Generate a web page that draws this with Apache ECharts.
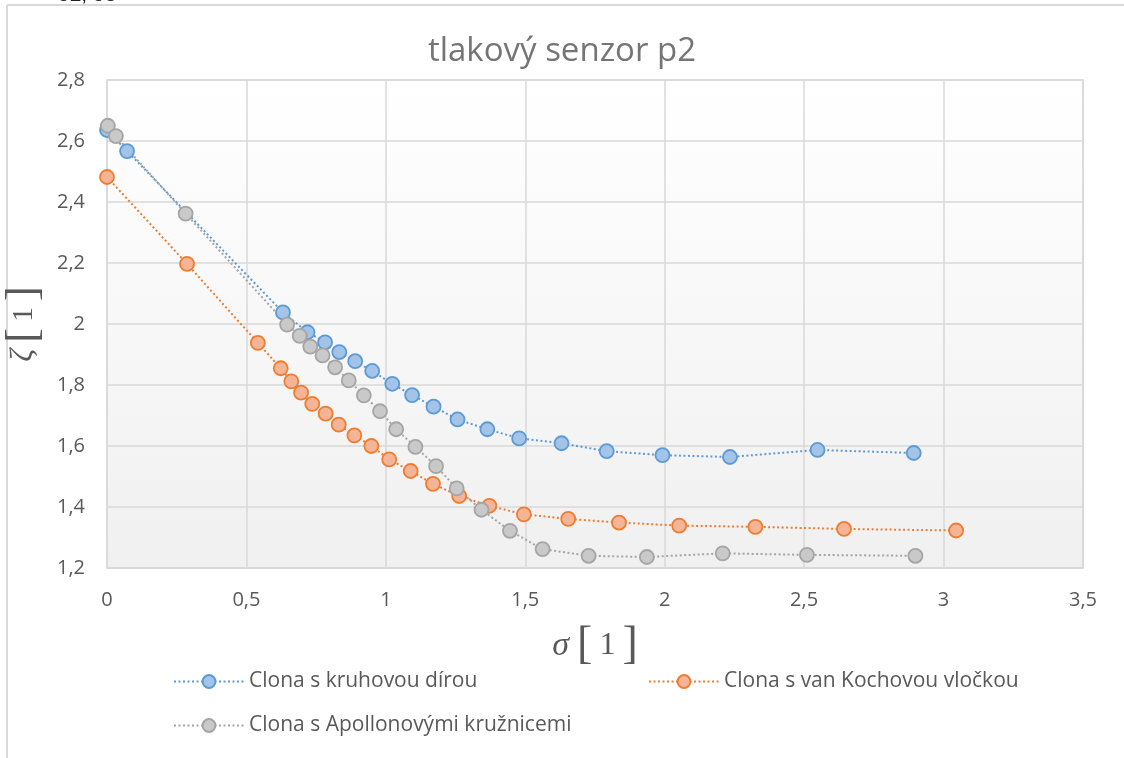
<!DOCTYPE html>
<html>
<head>
<meta charset="utf-8">
<script src="https://cdn.jsdelivr.net/npm/echarts@6/dist/echarts.min.js"></script>
<style>
html,body{margin:0;padding:0;background:#fff;}
#chart{width:1124px;height:758px;}
</style>
</head>
<body>
<div id="chart"></div>
<script>
// ---- data ----
const seriesNames = ['Clona s kruhovou dírou', 'Clona s van Kochovou vločkou', 'Clona s Apollonovými kružnicemi'];

const kruhX = [0, 0.072, 0.631, 0.719, 0.782, 0.833, 0.890, 0.951, 1.023, 1.094, 1.171, 1.257, 1.364, 1.478, 1.630, 1.792, 1.992, 2.234, 2.548, 2.893];
const kruhY = [2.636, 2.567, 2.038, 1.973, 1.940, 1.908, 1.878, 1.846, 1.804, 1.767, 1.729, 1.687, 1.655, 1.625, 1.609, 1.583, 1.570, 1.564, 1.587, 1.577];

const kochX = [0, 0.287, 0.541, 0.623, 0.661, 0.696, 0.736, 0.784, 0.831, 0.887, 0.948, 1.012, 1.089, 1.169, 1.263, 1.371, 1.495, 1.654, 1.836, 2.052, 2.325, 2.643, 3.045];
const kochY = [2.482, 2.197, 1.938, 1.855, 1.812, 1.775, 1.738, 1.706, 1.670, 1.635, 1.600, 1.556, 1.518, 1.476, 1.436, 1.404, 1.376, 1.361, 1.349, 1.339, 1.335, 1.328, 1.323];

const apolX = [0.003, 0.032, 0.282, 0.646, 0.691, 0.729, 0.773, 0.818, 0.867, 0.921, 0.979, 1.037, 1.106, 1.180, 1.254, 1.343, 1.445, 1.562, 1.727, 1.936, 2.208, 2.510, 2.899];
const apolY = [2.650, 2.616, 2.362, 1.998, 1.961, 1.926, 1.897, 1.858, 1.815, 1.766, 1.714, 1.655, 1.597, 1.534, 1.461, 1.391, 1.322, 1.262, 1.240, 1.236, 1.248, 1.243, 1.240];

const xTickLabels = ['0', '0,5', '1', '1,5', '2', '2,5', '3', '3,5'];
const yTickLabels = ['1,2', '1,4', '1,6', '1,8', '2', '2,2', '2,4', '2,6', '2,8'];

const titleText = 'tlakový senzor p2';
const cornerText = '92, 93';

// ---- chart ----
function pairs(xs, ys) { return xs.map((x, i) => [x, ys[i]]); }

const colors = {
  blue:   { line: '#5b9bd5', border: '#5b9bd5', fill: '#a3c3e8' },
  orange: { line: '#ed7d31', border: '#ed7d31', fill: '#f6b496' },
  gray:   { line: '#a5a5a5', border: '#a5a5a5', fill: '#c9c9c9' }
};

function mkSeries(name, data, c) {
  return {
    name: name,
    type: 'line',
    data: data,
    symbol: 'circle',
    symbolSize: 14,
    showAllSymbol: true,
    lineStyle: { color: c.line, width: 2, type: [2, 2.5] },
    itemStyle: { color: c.fill, borderColor: c.border, borderWidth: 1.8 },
    emphasis: { disabled: true },
    animation: false
  };
}

const labelFont = '"Open Sans", Lato, sans-serif';

function legendItem(name, left, top) {
  return {
    data: [name], left: left, top: top, padding: 0,
    itemWidth: 70, itemHeight: 16, itemGap: 0,
    textStyle: { fontFamily: labelFont, fontSize: 21, color: '#595959' }
  };
}

const chart = echarts.init(document.getElementById('chart'), null, { renderer: 'canvas' });
chart.setOption({
  backgroundColor: '#ffffff',
  animation: false,
  title: {
    text: titleText,
    left: 'center',
    top: 30,
    textStyle: { fontFamily: labelFont, fontSize: 33, fontWeight: 'normal', color: '#757575' }
  },
  grid: {
    left: 107, right: 41, top: 80, bottom: 190,
    outerBoundsMode: 'none',
    containLabel: false,
    show: true,
    borderColor: '#d9d9d9',
    borderWidth: 1.5,
    backgroundColor: new echarts.graphic.LinearGradient(0, 0, 0, 1, [
      { offset: 0, color: '#ffffff' },
      { offset: 1, color: '#f0f0f0' }
    ])
  },
  xAxis: {
    type: 'value',
    min: 0, max: 3.5, interval: 0.5,
    axisLine: { show: true, lineStyle: { color: '#d9d9d9', width: 1.5 } },
    axisTick: { show: false },
    splitLine: { show: true, lineStyle: { color: '#d9d9d9', width: 1.5 } },
    axisLabel: {
      margin: 22,
      fontFamily: labelFont, fontSize: 20, color: '#595959',
      formatter: v => xTickLabels[Math.round(v / 0.5)]
    },
    name: '{v|σ}{b|[}{n|1}{b|]}',
    nameLocation: 'middle',
    nameGap: 55,
    nameTextStyle: {
      rich: {
        v: { fontFamily: '"Liberation Serif", serif', fontStyle: 'italic', fontSize: 34, color: '#595959', padding: [0, 8, 0, 0] },
        b: { fontFamily: '"Liberation Serif", serif', fontSize: 46, color: '#595959' },
        n: { fontFamily: '"Liberation Serif", serif', fontSize: 32, color: '#595959', padding: [0, 7, 0, 7] }
      }
    }
  },
  yAxis: {
    type: 'value',
    min: 1.2, max: 2.8, interval: 0.2,
    axisLine: { show: false },
    axisTick: { show: false },
    splitLine: { show: true, lineStyle: { color: '#d9d9d9', width: 1.5 } },
    axisLabel: {
      margin: 22,
      fontFamily: labelFont, fontSize: 20, color: '#595959',
      formatter: v => yTickLabels[Math.round((v - 1.2) / 0.2)]
    },
    name: '{v|ζ}{b|[}{n|1}{b|]}',
    nameLocation: 'middle',
    nameRotate: 90,
    nameGap: 48,
    nameTextStyle: {
      rich: {
        v: { fontFamily: '"Liberation Serif", serif', fontStyle: 'italic', fontSize: 32, color: '#595959', padding: [0, 6, 0, 0] },
        b: { fontFamily: '"Liberation Serif", serif', fontSize: 44, color: '#595959' },
        n: { fontFamily: '"Liberation Serif", serif', fontSize: 30, color: '#595959', padding: [0, 6, 0, 6] }
      }
    }
  },
  legend: [
    legendItem(seriesNames[0], 173, 671),
    legendItem(seriesNames[1], 648, 671),
    legendItem(seriesNames[2], 173, 715)
  ],
  graphic: [
    { type: 'line', shape: { x1: 7, y1: 5, x2: 1124, y2: 5 }, style: { stroke: '#d9d9d9', lineWidth: 2 }, silent: true },
    { type: 'line', shape: { x1: 7, y1: 5, x2: 7, y2: 758 }, style: { stroke: '#d9d9d9', lineWidth: 2 }, silent: true },
    { type: 'text', left: 58, top: -15, style: { text: cornerText, fontFamily: '"Liberation Sans", sans-serif', fontSize: 21, fill: '#222222' }, silent: true }
  ],
  series: [
    mkSeries(seriesNames[0], pairs(kruhX, kruhY), colors.blue),
    mkSeries(seriesNames[1], pairs(kochX, kochY), colors.orange),
    mkSeries(seriesNames[2], pairs(apolX, apolY), colors.gray)
  ]
});
</script>
</body>
</html>
